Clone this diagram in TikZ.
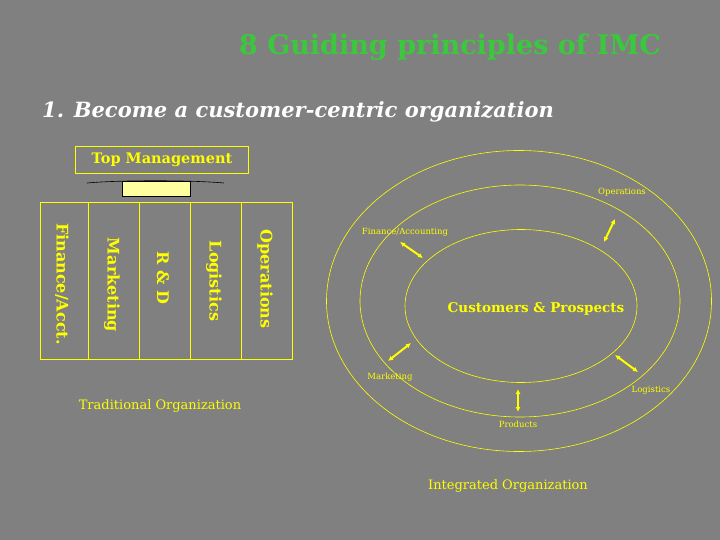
\documentclass[tikz,border=0pt]{standalone}
\usepackage{fontspec}
\setmainfont{DejaVu Serif}
\usetikzlibrary{arrows.meta,shapes.geometric}
\definecolor{bg}{RGB}{128,128,128}
\definecolor{yel}{RGB}{255,255,0}
\definecolor{grn}{RGB}{60,200,60}
\definecolor{pale}{RGB}{255,255,160}
\tikzset{
  yt/.style={text=yel,font=\bfseries\fontsize{13.5}{16}\selectfont,inner sep=0},
  small/.style={text=yel,font=\fontsize{8.5}{9}\selectfont,inner sep=0},
  col/.style={draw=yel,line width=0.8pt,minimum width=51pt,minimum height=157pt,inner sep=0,anchor=north west},
  coltext/.style={text=yel,font=\bfseries\fontsize{16}{19}\selectfont,rotate=-90,inner sep=0},
  ring/.style={draw=yel,line width=0.6pt},
  dbl/.style={{Latex[length=5pt,width=5pt]}-{Latex[length=5pt,width=5pt]},draw=yel,line width=2pt}
}
\begin{document}
\begin{tikzpicture}[x=1pt,y=-1pt]
\fill[bg] (0,0) rectangle (720,540);
\useasboundingbox (0,0) rectangle (720,540);
\node[text=grn,font=\bfseries\fontsize{27}{32}\selectfont,inner sep=0] (title) at (450,47) {8 Guiding principles of IMC};
\node[text=white,font=\bfseries\itshape\fontsize{21}{26}\selectfont,inner sep=0,anchor=west] (sub) at (42,112) {1. Become a customer-centric organization};
\node[draw=yel,line width=0.8pt,minimum width=173pt,minimum height=27pt,inner sep=0] (top) at (162,160) {};
\node[yt,font=\bfseries\fontsize{14.5}{16}\selectfont] (toptext) at (top.center) {Top Management};
\draw[black,line width=0.6pt] (87,183) .. controls (120,180) and (190,180) .. (224,183);
\node[fill=pale,draw=black,line width=0.6pt,minimum width=68pt,minimum height=15pt,inner sep=0] (conn) at (156,189) {};
\node[col,minimum width=48pt] (c1) at (40,202) {};
\node[col] (c2) at (88,202) {};
\node[col] (c3) at (139,202) {};
\node[col] (c4) at (190,202) {};
\node[col] (c5) at (241,202) {};
\node[coltext] (t1) at (62,284) {Finance/Acct.};
\node[coltext] (t2) at (112,285) {Marketing};
\node[coltext] (t3) at (163,278) {R \& D};
\node[coltext] (t4) at (214,281) {Logistics};
\node[coltext] (t5) at (265,279) {Operations};
\node[yt,font=\fontsize{13}{16}\selectfont] (trad) at (160,406) {Traditional Organization};
\node[ring,ellipse,minimum width=385pt,minimum height=301pt,inner sep=0] (outer) at (519,301) {};
\node[ring,ellipse,minimum width=320pt,minimum height=232pt,inner sep=0] (mid) at (520,301) {};
\node[ring,ellipse,minimum width=232pt,minimum height=153pt,inner sep=0] (inner) at (521,306) {};
\node[yt] (cp) at (536,309) {Customers \& Prospects};
\node[small] (lops) at (622,192) {Operations};
\node[small] (lfin) at (405,232) {Finance/Accounting};
\node[small] (lmkt) at (390,377) {Marketing};
\node[small] (lprod) at (518,424) {Products};
\node[small] (llog) at (651,390) {Logistics};
\node[yt,font=\fontsize{13}{16}\selectfont] (integ) at (508,486) {Integrated Organization};
\coordinate (a1) at (604,242); \coordinate (b1) at (615,219);
\coordinate (a2) at (400,242); \coordinate (b2) at (423,258);
\coordinate (a3) at (388,361); \coordinate (b3) at (411,343);
\coordinate (a4) at (518,389); \coordinate (b4) at (518,412);
\coordinate (a5) at (615,355); \coordinate (b5) at (638,372);
\foreach \i in {1,...,5} {\draw[dbl] (a\i) -- (b\i);}
\end{tikzpicture}
\end{document}
